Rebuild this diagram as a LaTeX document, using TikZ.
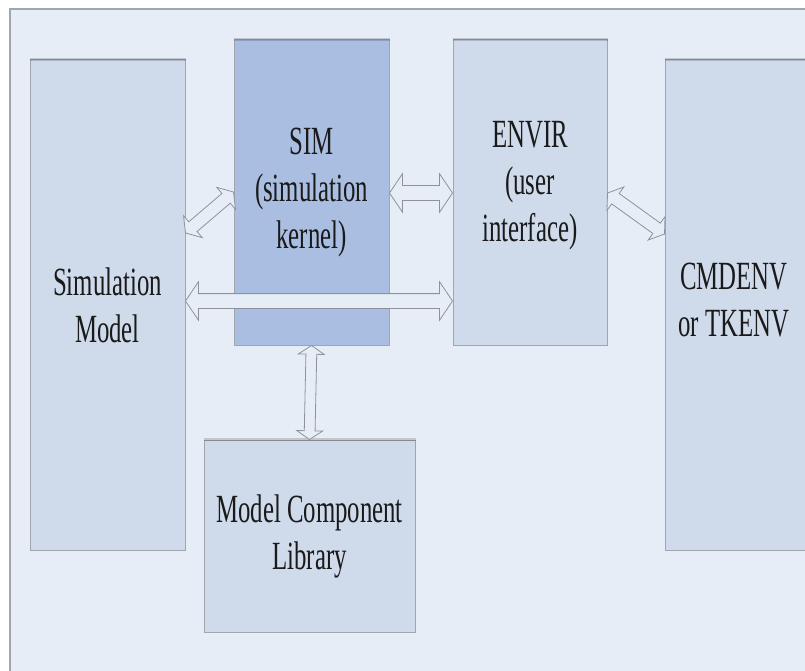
\documentclass[tikz,border=0pt]{standalone}
\usepackage{fontspec}
\setmainfont{Liberation Serif}[FakeStretch=0.62]
\usetikzlibrary{shapes.arrows,calc}
\definecolor{panel}{HTML}{E6EDF7}
\definecolor{boxfill}{HTML}{CFDAEB}
\definecolor{simfill}{HTML}{A9BEE1}
\definecolor{edge}{HTML}{A0A5AE}
\definecolor{arrowedge}{HTML}{8E939B}
\definecolor{ink}{HTML}{1A1A1A}
\tikzset{
  block/.style={draw=edge, line width=1pt, fill=boxfill, inner sep=0pt, align=center,
    text=ink, font=\fontsize{40}{47}\selectfont},
  label text/.style={inner sep=0pt, align=center, text=ink, font=\fontsize{40}{47}\selectfont},
  topedge/.style={line width=2.5pt, draw=black, draw opacity=0.16},
  blk/.style={double arrow, draw=arrowedge, fill=panel, line width=0.8pt, inner xsep=0pt,
    text height=0pt, text depth=0pt, text width=0pt,
    double arrow head indent=0pt, double arrow tip angle=112},
}
% #1 from, #2 to, #3 half shaft width, #4 head extend
\newcommand\blkarrow[4]{%
  \path let \p1=#1, \p2=#2,
    \n1={atan2(\y2-\y1,\x2-\x1)}, \n2={veclen(\x2-\x1,\y2-\y1)} in
    node[blk, rotate=\n1, minimum height=\n2, inner ysep=#3,
      double arrow head extend=#4] at ($(\p1)!0.5!(\p2)$) {};}
\begin{document}
\begin{tikzpicture}[x=1pt,y=-1pt]
\useasboundingbox (0,0) rectangle (805,671);
\clip (0,0) rectangle (805,671);
% panel
\fill[panel] (10,9) rectangle (830,690);
\draw[edge, line width=1.2pt] (10,690) -- (10,9) -- (830,9);
% boxes
\node[block, minimum width=155, minimum height=490] (sm) at (107.5,305) {Simulation\\Model};
\node[block, fill=simfill, minimum width=155, minimum height=305] (sim) at (311.5,192.5) {SIM\\(simulation\\kernel)};
\node[block, minimum width=154, minimum height=305] (envir) at (530,192.5) {};
\node[label text] (envirtext) at (530,186) {ENVIR\\(user\\interface)};
\node[block, minimum width=160, minimum height=490] (cmd) at (745,305) {};
\node[label text] (cmdtext) at (734,300) {CMDENV\\or TKENV};
\node[block, minimum width=211, minimum height=192] (lib) at (309.5,536) {Model Component\\Library};
\foreach \n in {sm,sim,envir,cmd,lib}
  \draw[topedge] (\n.north west) -- (\n.north east);
% connectors
\blkarrow{(sm.east |- 0,233)}{(sim.west |- 0,192)}{6pt}{8pt}
\blkarrow{(sm.east |- 0,301)}{(envir.west |- 0,301)}{7pt}{12pt}
\blkarrow{(sim.east |- 0,193)}{(envir.west |- 0,193)}{7pt}{12pt}
\blkarrow{(envir.east |- 0,193)}{(cmd.west |- 0,234)}{6pt}{8pt}
\blkarrow{(sim.south)}{(lib.north)}{5pt}{7.5pt}
\end{tikzpicture}
\end{document}
